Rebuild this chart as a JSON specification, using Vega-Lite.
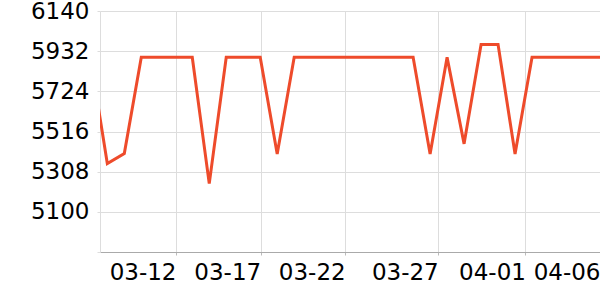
{
  "$schema": "https://vega.github.io/schema/vega-lite/v6.json",
  "width": 500,
  "height": 241,
  "autosize": {"type": "none"},
  "padding": {"left": 100, "top": 11, "right": 0, "bottom": 48},
  "background": "white",
  "config": {"view": {"stroke": null}, "font": "DejaVu Sans"},
  "data": {
    "values": [
      {"date": "2024-03-07", "value": 5900},
      {"date": "2024-03-08", "value": 5350},
      {"date": "2024-03-09", "value": 5402},
      {"date": "2024-03-10", "value": 5900},
      {"date": "2024-03-11", "value": 5900},
      {"date": "2024-03-12", "value": 5900},
      {"date": "2024-03-13", "value": 5900},
      {"date": "2024-03-14", "value": 5246},
      {"date": "2024-03-15", "value": 5900},
      {"date": "2024-03-16", "value": 5900},
      {"date": "2024-03-17", "value": 5900},
      {"date": "2024-03-18", "value": 5400},
      {"date": "2024-03-19", "value": 5900},
      {"date": "2024-03-20", "value": 5900},
      {"date": "2024-03-21", "value": 5900},
      {"date": "2024-03-22", "value": 5900},
      {"date": "2024-03-23", "value": 5900},
      {"date": "2024-03-24", "value": 5900},
      {"date": "2024-03-25", "value": 5900},
      {"date": "2024-03-26", "value": 5900},
      {"date": "2024-03-27", "value": 5400},
      {"date": "2024-03-28", "value": 5900},
      {"date": "2024-03-29", "value": 5452},
      {"date": "2024-03-30", "value": 5966},
      {"date": "2024-03-31", "value": 5966},
      {"date": "2024-04-01", "value": 5400},
      {"date": "2024-04-02", "value": 5900},
      {"date": "2024-04-03", "value": 5900},
      {"date": "2024-04-04", "value": 5900},
      {"date": "2024-04-05", "value": 5900},
      {"date": "2024-04-06", "value": 5900}
    ]
  },
  "mark": {"type": "line", "color": "#ee4b2b", "strokeWidth": 3, "clip": true},
  "encoding": {
    "x": {
      "field": "date",
      "type": "temporal",
      "scale": {
        "type": "utc",
        "domain": [
          {"year": 2024, "month": 3, "date": 7, "hours": 13, "minutes": 40, "utc": true},
          {"year": 2024, "month": 4, "date": 6, "hours": 0, "utc": true}
        ]
      },
      "axis": {
        "title": null,
        "values": [
          {"year": 2024, "month": 3, "date": 12, "hours": 1, "utc": true},
          {"year": 2024, "month": 3, "date": 17, "hours": 0, "minutes": 40, "utc": true},
          {"year": 2024, "month": 3, "date": 22, "hours": 0, "minutes": 0, "utc": true},
          {"year": 2024, "month": 3, "date": 27, "hours": 11, "minutes": 30, "utc": true},
          {"year": 2024, "month": 4, "date": 1, "hours": 14, "minutes": 40, "utc": true},
          {"year": 2024, "month": 4, "date": 6, "hours": 0, "utc": true}
        ],
        "labelExpr": "utcFormat(datum.value, '%m-%d')",
        "labelAlign": "right",
        "labelDx": -2,
        "labelFontSize": 23,
        "labelColor": "#000000",
        "labelPadding": 6,
        "labelFlush": false,
        "labelOverlap": false,
        "tickSize": 3,
        "tickColor": "#bbbbbb",
        "domainColor": "#aaaaaa",
        "gridColor": "#dddddd",
        "grid": true
      }
    },
    "y": {
      "field": "value",
      "type": "quantitative",
      "scale": {"domain": [4892, 6140], "nice": false, "zero": false},
      "axis": {
        "title": null,
        "values": [4892, 5100, 5308, 5516, 5724, 5932, 6140],
        "labelExpr": "datum.value == 4892 ? '' : datum.label",
        "format": "d",
        "labelFontSize": 23,
        "labelColor": "#000000",
        "labelPadding": 8,
        "labelFlush": false,
        "labelOverlap": false,
        "tickSize": 3,
        "tickColor": "#dddddd",
        "domainColor": "#dddddd",
        "gridColor": "#dddddd",
        "grid": true
      }
    }
  }
}
